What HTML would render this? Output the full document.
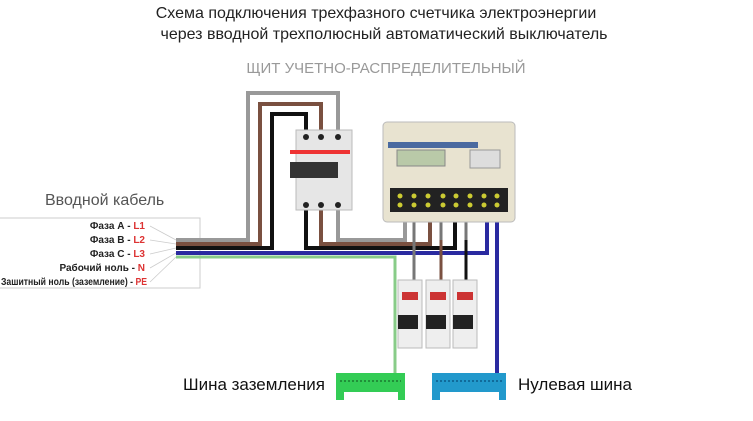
<!DOCTYPE html>
<html><head><meta charset="utf-8"><style>
body{margin:0;width:753px;height:416px;background:#fff;overflow:hidden;font-family:"Liberation Sans",sans-serif}
</style></head><body>
<svg width="753" height="416" viewBox="0 0 753 416" xmlns="http://www.w3.org/2000/svg" font-family="Liberation Sans, sans-serif">
<text x="376" y="18" text-anchor="middle" font-size="16" fill="#222">Схема подключения трехфазного счетчика электроэнергии</text>
<text x="384" y="39" text-anchor="middle" font-size="16" fill="#222">через вводной трехполюсный автоматический выключатель</text>
<text x="386" y="73" text-anchor="middle" font-size="15" fill="#999">ЩИТ УЧЕТНО-РАСПРЕДЕЛИТЕЛЬНЫЙ</text>
<text x="45" y="205" font-size="16" fill="#555">Вводной кабель</text>
<rect x="-1" y="218" width="201" height="70" fill="none" stroke="#ccc"/>
<g font-size="10" font-weight="bold" text-anchor="end" fill="#222">
<text x="145" y="229">Фаза А - <tspan fill="#d33">L1</tspan></text>
<text x="145" y="243">Фаза В - <tspan fill="#d33">L2</tspan></text>
<text x="145" y="257">Фаза С - <tspan fill="#d33">L3</tspan></text>
<text x="145" y="271">Рабочий ноль - <tspan fill="#d33">N</tspan></text>
</g>
<text x="1" y="285" font-size="10" font-weight="bold" fill="#222" textLength="146" lengthAdjust="spacingAndGlyphs">Зашитный ноль (заземление) - <tspan fill="#d33">PE</tspan></text>
<g stroke="#ccc" stroke-width="0.8"><line x1="150" y1="226" x2="176" y2="240"/><line x1="150" y1="240" x2="176" y2="244"/><line x1="150" y1="254" x2="176" y2="248"/><line x1="150" y1="268" x2="176" y2="253"/><line x1="150" y1="282" x2="176" y2="257"/></g>
<g fill="none" stroke-width="4">
<path d="M176 240H248V93H338V130" stroke="#999"/>
<path d="M176 244H260V104H321V130" stroke="#7a5040"/>
<path d="M176 248H272V114H306V130" stroke="#111"/>
<path d="M306 210V248H455V210" stroke="#111"/>
<path d="M321 210V244H430V210" stroke="#7a5040"/>
<path d="M338 210V240H405V210" stroke="#999"/>
<path d="M176 253H487V212" stroke="#2a2aa0"/>
<path d="M497 212V375" stroke="#2a2aa0"/>
<path d="M176 257H395V375" stroke="#8c8" stroke-width="3"/>
<path d="M414 212V290M441 212V290M466 212V290" stroke="#777" stroke-width="3"/>
</g>
<path d="M441 240V290" stroke="#7a5040" stroke-width="3"/><path d="M466 240V290" stroke="#111" stroke-width="3"/>
<rect x="296" y="130" width="56" height="80" fill="#e6e6e6" stroke="#bbb"/>
<rect x="290" y="150" width="60" height="4" fill="#e33"/>
<rect x="290" y="162" width="48" height="16" fill="#333"/>
<g fill="#222"><circle cx="306" cy="137" r="3"/><circle cx="321" cy="137" r="3"/><circle cx="338" cy="137" r="3"/><circle cx="306" cy="205" r="3"/><circle cx="321" cy="205" r="3"/><circle cx="338" cy="205" r="3"/></g>
<rect x="383" y="122" width="132" height="100" rx="4" fill="#e8e3d0" stroke="#bbb"/>
<rect x="388" y="142" width="90" height="6" fill="#4a6aa0"/>
<rect x="397" y="150" width="48" height="16" fill="#b9c9a8" stroke="#888"/>
<rect x="470" y="150" width="30" height="18" fill="#ddd" stroke="#999"/>
<rect x="390" y="188" width="118" height="24" fill="#222"/>
<g fill="#cc3">
<circle cx="400" cy="196" r="2.5"/><circle cx="414" cy="196" r="2.5"/><circle cx="428" cy="196" r="2.5"/><circle cx="443" cy="196" r="2.5"/><circle cx="456" cy="196" r="2.5"/><circle cx="470" cy="196" r="2.5"/><circle cx="484" cy="196" r="2.5"/><circle cx="497" cy="196" r="2.5"/>
<circle cx="400" cy="205" r="2.5"/><circle cx="414" cy="205" r="2.5"/><circle cx="428" cy="205" r="2.5"/><circle cx="443" cy="205" r="2.5"/><circle cx="456" cy="205" r="2.5"/><circle cx="470" cy="205" r="2.5"/><circle cx="484" cy="205" r="2.5"/><circle cx="497" cy="205" r="2.5"/></g>
<g stroke="#bbb" fill="#eee">
<rect x="398" y="280" width="24" height="68"/><rect x="426" y="280" width="24" height="68"/><rect x="453" y="280" width="24" height="68"/></g>
<g fill="#c33"><rect x="402" y="292" width="16" height="8"/><rect x="430" y="292" width="16" height="8"/><rect x="457" y="292" width="16" height="8"/></g>
<g fill="#222"><rect x="398" y="315" width="20" height="14"/><rect x="426" y="315" width="20" height="14"/><rect x="453" y="315" width="20" height="14"/></g>
<path d="M336 373H405V400H398V392H344V400H336Z" fill="#3c5"/>
<path d="M432 373H506V400H499V392H440V400H432Z" fill="#29c"/>
<g stroke="#1a7a30" stroke-width="1.5"><line x1="340" y1="381" x2="401" y2="381" stroke-dasharray="2 2"/></g>
<g stroke="#0a5a8a" stroke-width="1.5"><line x1="436" y1="381" x2="502" y2="381" stroke-dasharray="2 2"/></g>
<text x="183" y="390" font-size="17" fill="#111">Шина заземления</text>
<text x="518" y="390" font-size="17" fill="#111">Нулевая шина</text>
</svg>
</body></html>
